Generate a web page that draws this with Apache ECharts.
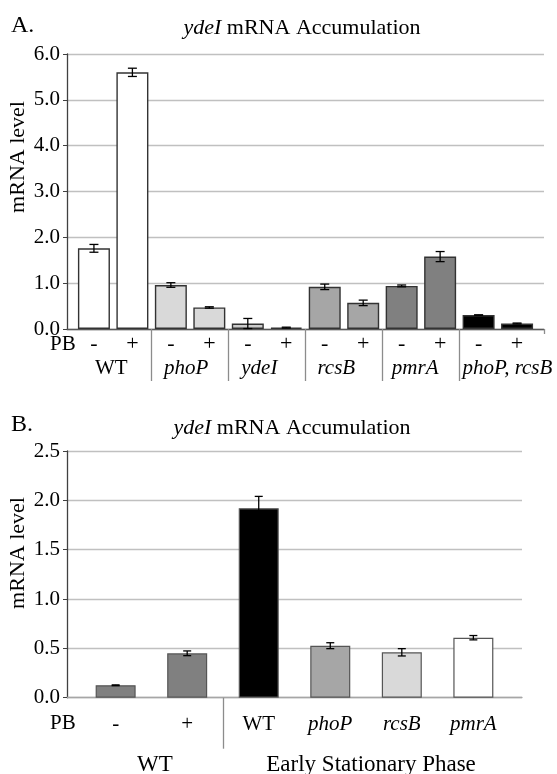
<!DOCTYPE html>
<html>
<head>
<meta charset="utf-8">
<script src="https://cdn.jsdelivr.net/npm/echarts@6/dist/echarts.min.js"></script>
<style>
html,body{margin:0;padding:0;background:#fff;}
#chart{width:557px;height:774px;}
</style>
</head>
<body>
<div id="chart"></div>
<script>
// ---------- Panel A data ----------
const signsA = ['-', '+', '-', '+', '-', '+', '-', '+', '-', '+', '-', '+'];
const groupsA = ['WT', 'phoP', 'ydeI', 'rcsB', 'pmrA', 'phoP, rcsB'];
const groupItalicA = [false, true, true, true, true, true];
const valuesA = [1.76, 5.60, 0.96, 0.47, 0.12, 0.03, 0.92, 0.57, 0.94, 1.58, 0.305, 0.12];
const errorsA = [0.085, 0.09, 0.05, 0.015, 0.11, 0.01, 0.06, 0.06, 0.02, 0.11, 0.004, 0.01];
const colorsA = ['#ffffff', '#ffffff', '#d9d9d9', '#d9d9d9', '#cccccc', '#cccccc', '#a6a6a6', '#a6a6a6', '#808080', '#808080', '#000000', '#000000'];
const ticksA = [0, 1, 2, 3, 4, 5, 6];

// ---------- Panel B data ----------
const labelsB = ['-', '+', 'WT', 'phoP', 'rcsB', 'pmrA'];
const labelItalicB = [false, false, false, true, true, true];
const groupsB = ['WT', 'Early Stationary Phase'];
const valuesB = [0.126, 0.45, 1.92, 0.527, 0.46, 0.608];
const errorsB = [0.004, 0.024, 0.12, 0.03, 0.037, 0.022];
const colorsB = ['#808080', '#808080', '#000000', '#a6a6a6', '#d9d9d9', '#ffffff'];
const ticksB = [0, 0.5, 1, 1.5, 2, 2.5];

// ---------- layout (label anchor positions, in category units) ----------
const groupLabelPosA = [0.45, 2.4, 4.3, 6.3, 8.35, 10.75];
const separatorPosA = [1.5, 3.5, 5.5, 7.5, 9.5];
const groupLabelPosB = [0.55, 3.57];
const separatorPosB = [1.5];

const FONT = '"Liberation Serif", "Times New Roman", serif';
const chart = echarts.init(document.getElementById('chart'));

function errRender(capHalf) {
  return function (params, api) {
    const x = api.value(0), v = api.value(1), e = api.value(2);
    const top = api.coord([x, v + e]);
    const bot = api.coord([x, v - e]);
    const st = { stroke: '#000', lineWidth: 1.3 };
    return {
      type: 'group',
      children: [
        { type: 'line', shape: { x1: top[0], y1: top[1], x2: bot[0], y2: bot[1] }, style: st },
        { type: 'line', shape: { x1: top[0] - capHalf, y1: top[1], x2: top[0] + capHalf, y2: top[1] }, style: st },
        { type: 'line', shape: { x1: bot[0] - capHalf, y1: bot[1], x2: bot[0] + capHalf, y2: bot[1] }, style: st }
      ]
    };
  };
}

const richItalic = { i: { fontStyle: 'italic', fontFamily: FONT, fontSize: 22, color: '#000' } };

const option = {
  backgroundColor: '#fff',
  animation: false,
  grid: [
    { left: 67, right: 13, top: 54, height: 275, outerBoundsMode: 'none', containLabel: false },
    { left: 67, right: 35, top: 451, height: 246.7, outerBoundsMode: 'none', containLabel: false }
  ],
  xAxis: [
    { // A: signs + separators
      gridIndex: 0, type: 'value', min: -0.7, max: 11.7, position: 'bottom',
      splitLine: { show: false },
      axisLine: { show: true, onZero: false, lineStyle: { color: '#595959', width: 1.3 } },
      axisTick: { show: true, customValues: separatorPosA, length: 52, lineStyle: { color: '#8c8c8c', width: 1.3 } },
      axisLabel: {
        customValues: signsA.map((s, i) => i), margin: 4, fontFamily: FONT, fontSize: 22, color: '#000',
        formatter: v => signsA[Math.round(v)]
      }
    },
    { // A: group names
      gridIndex: 0, type: 'value', min: -0.7, max: 11.7, position: 'bottom',
      splitLine: { show: false }, axisLine: { show: false, onZero: false }, axisTick: { show: false },
      axisLabel: {
        customValues: groupLabelPosA, margin: 29, fontFamily: FONT, fontSize: 21, color: '#000',
        formatter: v => { const k = groupLabelPosA.indexOf(v); return groupItalicA[k] ? '{i|' + groupsA[k] + '}' : groupsA[k]; },
        rich: { i: { fontStyle: 'italic', fontFamily: FONT, fontSize: 21, color: '#000' } }
      }
    },
    { // A: right end tick
      gridIndex: 0, type: 'value', min: -0.7, max: 11.7, position: 'bottom',
      splitLine: { show: false }, axisLine: { show: false, onZero: false },
      axisTick: { show: true, customValues: [11.7], length: 5, lineStyle: { color: '#8c8c8c', width: 1.3 } },
      axisLabel: { show: false }
    },
    { // B: labels + separator
      gridIndex: 1, type: 'value', min: -0.68, max: 5.68, position: 'bottom',
      splitLine: { show: false },
      axisLine: { show: true, onZero: false, lineStyle: { color: '#a6a6a6', width: 1.3 } },
      axisTick: { show: true, customValues: separatorPosB, length: 51, lineStyle: { color: '#8c8c8c', width: 1.3 } },
      axisLabel: {
        customValues: labelsB.map((s, i) => i), margin: 16, fontFamily: FONT, fontSize: 21, color: '#000',
        formatter: v => { const k = Math.round(v); return labelItalicB[k] ? '{i|' + labelsB[k] + '}' : labelsB[k]; },
        rich: { i: { fontStyle: 'italic', fontFamily: FONT, fontSize: 21, color: '#000' } }
      }
    },
    { // B: group names
      gridIndex: 1, type: 'value', min: -0.68, max: 5.68, position: 'bottom',
      splitLine: { show: false }, axisLine: { show: false, onZero: false }, axisTick: { show: false },
      axisLabel: {
        customValues: groupLabelPosB, margin: 56, fontFamily: FONT, fontSize: 23, color: '#000',
        formatter: v => groupsB[groupLabelPosB.indexOf(v)]
      }
    }
  ],
  yAxis: [
    {
      gridIndex: 0, type: 'value', min: ticksA[0], max: ticksA[ticksA.length - 1], interval: 1,
      axisLine: { show: true, onZero: false, lineStyle: { color: '#404040', width: 1.3 } },
      axisTick: { show: true, length: 4, lineStyle: { color: '#404040' } },
      splitLine: { show: true, lineStyle: { color: '#c0c0c0', width: 1.3 } },
      axisLabel: { margin: 7, fontFamily: FONT, fontSize: 21, color: '#000', formatter: v => v.toFixed(1) }
    },
    {
      gridIndex: 1, type: 'value', min: ticksB[0], max: ticksB[ticksB.length - 1], interval: 0.5,
      axisLine: { show: true, onZero: false, lineStyle: { color: '#404040', width: 1.3 } },
      axisTick: { show: true, length: 4, lineStyle: { color: '#404040' } },
      splitLine: { show: true, lineStyle: { color: '#c0c0c0', width: 1.3 } },
      axisLabel: { margin: 7, fontFamily: FONT, fontSize: 21, color: '#000', formatter: v => v.toFixed(1) }
    }
  ],
  series: [
    {
      type: 'bar', xAxisIndex: 0, yAxisIndex: 0, barWidth: 32,
      data: valuesA.map((v, i) => ({ value: [i, v], itemStyle: { color: colorsA[i], borderColor: '#333', borderWidth: 1.4 } }))
    },
    {
      type: 'custom', xAxisIndex: 0, yAxisIndex: 0, z: 5,
      renderItem: errRender(4.5),
      encode: { x: 0, y: 1 },
      data: valuesA.map((v, i) => [i, v, errorsA[i]])
    },
    {
      type: 'bar', xAxisIndex: 3, yAxisIndex: 1, barWidth: 40,
      data: valuesB.map((v, i) => ({ value: [i, v], itemStyle: { color: colorsB[i], borderColor: '#555', borderWidth: 1.2 } }))
    },
    {
      type: 'custom', xAxisIndex: 3, yAxisIndex: 1, z: 5,
      renderItem: errRender(4),
      encode: { x: 0, y: 1 },
      data: valuesB.map((v, i) => [i, v, errorsB[i]])
    }
  ],
  graphic: [
    { type: 'text', x: 11, y: 26, style: { text: 'A.', fontFamily: FONT, fontSize: 24, fill: '#000', textVerticalAlign: 'middle' } },
    { type: 'text', x: 11, y: 425, style: { text: 'B.', fontFamily: FONT, fontSize: 24, fill: '#000', textVerticalAlign: 'middle' } },
    { type: 'text', x: 302, y: 28, style: { text: '{i|ydeI} mRNA Accumulation', rich: richItalic, fontFamily: FONT, fontSize: 22, fill: '#000', textAlign: 'center', textVerticalAlign: 'middle' } },
    { type: 'text', x: 292, y: 428, style: { text: '{i|ydeI} mRNA Accumulation', rich: richItalic, fontFamily: FONT, fontSize: 22, fill: '#000', textAlign: 'center', textVerticalAlign: 'middle' } },
    { type: 'text', x: 18, y: 157, rotation: Math.PI / 2, style: { text: 'mRNA level', fontFamily: FONT, fontSize: 22, fill: '#000', textAlign: 'center', textVerticalAlign: 'middle' } },
    { type: 'text', x: 18, y: 553, rotation: Math.PI / 2, style: { text: 'mRNA level', fontFamily: FONT, fontSize: 22, fill: '#000', textAlign: 'center', textVerticalAlign: 'middle' } },
    { type: 'text', x: 50, y: 344, style: { text: 'PB', fontFamily: FONT, fontSize: 21, fill: '#000', textVerticalAlign: 'middle' } },
    { type: 'text', x: 50, y: 723, style: { text: 'PB', fontFamily: FONT, fontSize: 21, fill: '#000', textVerticalAlign: 'middle' } }
  ]
};
chart.setOption(option);
</script>
</body>
</html>
